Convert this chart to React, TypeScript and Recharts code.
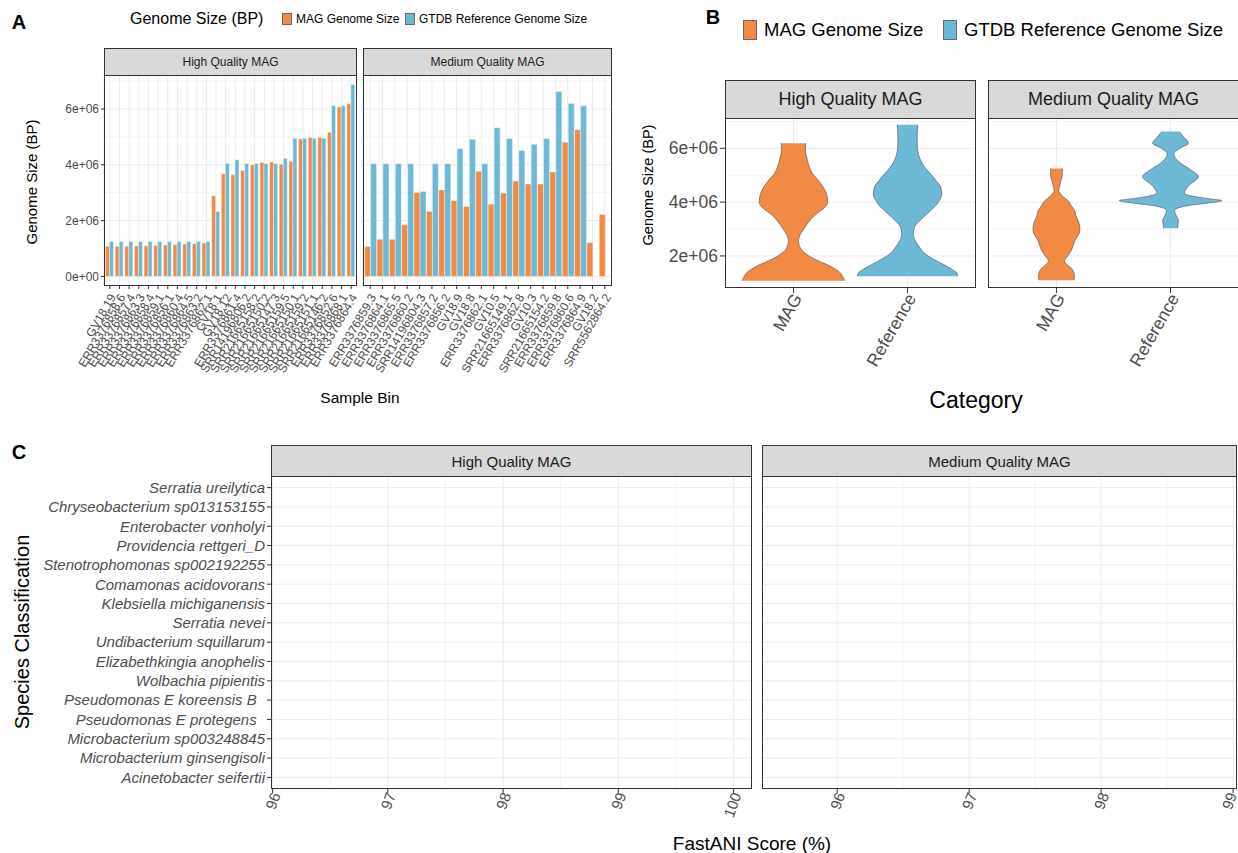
import React from 'react';
import { BarChart, Bar, ComposedChart, Area, Line, XAxis, YAxis, CartesianGrid } from 'recharts';

const FONT = '"Liberation Sans", Arial, Helvetica, sans-serif';
const ORANGE = '#F08A45';
const BLUE = '#6DB9D5';
const GRID = '#EBEBEB';
const MINOR = '#F3F3F3';
const TICK_TEXT = '#4D4D4D';
const FRAME = '#333333';

// ---- Panel A: genome size of each bin ----
const highBins = [
  'GV18.19', 'ERR3376858.6', 'ERR3376857.4', 'ERR3376863.3', 'ERR3376858.4', 'ERR3376859.1',
  'ERR3376856.1', 'ERR3376860.4', 'ERR3376864.5', 'ERR3376863.2', 'ERR3376862.1', 'GV18.1',
  'GV18.12', 'ERR3376861.4', 'SRR14196806.2', 'SRR21665158.2', 'SRR21665150.2', 'SRR21665147.3',
  'SRR21665159.5', 'SRR21665150.1', 'SRR21665159.2', 'SRR21665151.1', 'SRR21665146.2',
  'ERR3376852.6', 'ERR3376868.1', 'ERR3376864.4',
];
const highMag = [
  1.08e6, 1.08e6, 1.08e6, 1.09e6, 1.1e6, 1.12e6, 1.13e6, 1.14e6, 1.16e6, 1.17e6, 1.2e6, 2.89e6,
  3.68e6, 3.64e6, 3.8e6, 4.0e6, 4.08e6, 4.1e6, 4.02e6, 4.13e6, 4.93e6, 4.98e6, 4.99e6, 5.17e6,
  6.07e6, 6.19e6,
];
const highRef = [
  1.25e6, 1.25e6, 1.25e6, 1.25e6, 1.25e6, 1.25e6, 1.25e6, 1.25e6, 1.25e6, 1.25e6, 1.25e6, 2.33e6,
  4.06e6, 4.18e6, 4.05e6, 4.05e6, 4.05e6, 4.05e6, 4.23e6, 4.95e6, 4.95e6, 4.95e6, 4.95e6, 6.12e6,
  6.12e6, 6.88e6,
];
const mediumBins = [
  'ERR3376859.3', 'ERR3376864.1', 'ERR3376865.5', 'ERR3376860.2', 'SRR14196804.3', 'ERR3376857.2',
  'ERR3376856.2', 'GV18.9', 'GV18.8', 'ERR3376862.1', 'GV10.5', 'SRR21665149.1', 'ERR3376862.8',
  'GV10.3', 'SRR21665154.2', 'ERR3376859.8', 'ERR3376860.6', 'ERR3376864.9', 'GV18.2', 'SRR5562864.2',
];
const mediumMag = [
  1.07e6, 1.33e6, 1.33e6, 1.85e6, 3.01e6, 2.33e6, 3.1e6, 2.72e6, 2.51e6, 3.77e6, 2.59e6, 2.99e6,
  3.42e6, 3.31e6, 3.31e6, 3.74e6, 4.81e6, 5.26e6, 1.21e6, 2.22e6,
];
const mediumRef = [
  4.04e6, 4.04e6, 4.04e6, 4.04e6, 3.04e6, 4.04e6, 4.04e6, 4.58e6, 4.92e6, 4.04e6, 5.33e6, 4.94e6,
  4.51e6, 4.74e6, 4.94e6, 6.63e6, 6.2e6, 6.12e6, null, null,
];
const barTicks = [0, 2e6, 4e6, 6e6];

// ---- Panel B: violin half-widths (category units) read at each genome size level ----
const highLevels = [
  1.08e6, 1.25e6, 1.38e6, 1.5e6, 1.69e6, 1.85e6, 2.06e6, 2.3e6, 2.56e6, 2.8e6, 3.06e6, 3.3e6,
  3.56e6, 3.75e6, 4.0e6, 4.3e6, 4.56e6, 4.8e6, 5.06e6, 5.3e6, 5.6e6, 5.9e6, 6.19e6, 6.5e6, 6.875e6,
];
const highMagWidth = [
  0.45, 0.43, 0.41, 0.37, 0.29, 0.2, 0.115, 0.06, 0.045, 0.06, 0.1, 0.14,
  0.2, 0.26, 0.3, 0.29, 0.26, 0.22, 0.167, 0.14, 0.12, 0.105, 0.108, null, null,
];
const highRefWidth = [
  null, 0.44, 0.43, 0.39, 0.31, 0.24, 0.16, 0.11, 0.07, 0.05, 0.06, 0.105,
  0.17, 0.22, 0.27, 0.3, 0.29, 0.25, 0.2, 0.15, 0.11, 0.09, 0.085, 0.085, 0.09,
];
const mediumLevels = [
  1.1e6, 1.25e6, 1.5e6, 1.65e6, 1.81e6, 2.06e6, 2.3e6, 2.56e6, 2.94e6, 3.03e6, 3.19e6, 3.31e6,
  3.5e6, 3.69e6, 3.87e6, 3.95e6, 4.06e6, 4.13e6, 4.2e6, 4.34e6, 4.44e6, 4.62e6, 4.81e6, 4.94e6,
  5.25e6, 5.44e6, 5.79e6, 6.0e6, 6.19e6, 6.4e6, 6.625e6,
];
const mediumMagWidth = [
  0.155, 0.157, 0.14, 0.1, 0.07, 0.11, 0.14, 0.16, 0.205, 0.205, 0.2, 0.19,
  0.17, 0.16, 0.13, 0.12, 0.1, 0.08, 0.06, 0.03, 0.02, 0.03, 0.04, 0.05,
  0.052, null, null, null, null, null, null,
];
const mediumRefWidth = [
  null, null, null, null, null, null, null, null, null, 0.063, 0.065, 0.07,
  0.05, 0.035, 0.15, 0.3, 0.45, 0.33, 0.22, 0.12, 0.13, 0.16, 0.22, 0.245,
  0.16, 0.09, 0.03, 0.08, 0.157, 0.12, 0.075,
];
const violinCategories = ['MAG', 'Reference'];

// ---- Panel C: FastANI by species ----
const species = [
  'Serratia ureilytica', 'Chryseobacterium sp013153155', 'Enterobacter vonholyi',
  'Providencia rettgeri_D', 'Stenotrophomonas sp002192255', 'Comamonas acidovorans',
  'Klebsiella michiganensis', 'Serratia nevei', 'Undibacterium squillarum',
  'Elizabethkingia anophelis', 'Wolbachia pipientis', 'Pseudomonas E koreensis B\u00A0\u00A0',
  'Pseudomonas E protegens\u00A0\u00A0', 'Microbacterium sp003248845', 'Microbacterium ginsengisoli',
  'Acinetobacter seifertii',
];
const aniTicksHigh = [96, 97, 98, 99, 100];
const aniMinorHigh = [96.5, 97.5, 98.5, 99.5];
const aniTicksMedium = [96, 97, 98, 99];
const aniMinorMedium = [95.5, 96.5, 97.5, 98.5];

// note: no row key may be called "ref" (bar entries get spread onto the shapes)
const highRows = highBins.map((bin, i) => ({ bin, magSize: highMag[i], refSize: highRef[i] }));
const mediumRows = mediumBins.map((bin, i) => ({ bin, magSize: mediumMag[i], refSize: mediumRef[i] }));
const highViolin = highLevels.map((y, i) => ({ y, magHalf: highMagWidth[i], refHalf: highRefWidth[i] }));
const mediumViolin = mediumLevels.map((y, i) => ({ y, magHalf: mediumMagWidth[i], refHalf: mediumRefWidth[i] }));
const speciesRows = species.map((name) => ({ name }));

const sci = (v: number) => (v === 0 ? '0e+00' : `${v / 1e6}e+06`);

// rotated tick label, text end anchored at the tick
const slant = (angle: number, fontSize: number, dx: number, dy: number, format?: (v: any) => string) =>
  (props: any) => {
    const tx = props.x + dx;
    const ty = props.y + dy;
    const v = props.payload ? props.payload.value : '';
    return (
      <text x={tx} y={ty} transform={`rotate(${angle} ${tx} ${ty})`} textAnchor="end"
        dominantBaseline="central" fontSize={fontSize} fill={TICK_TEXT} fontFamily={FONT}>
        {format ? format(v) : v}
      </text>
    );
  };

const Strip = ({ left, top, width, height, text, fontSize }: any) => (
  <div style={{
    position: 'absolute', left, top, width, height, boxSizing: 'border-box', background: '#D9D9D9',
    border: `1px solid ${FRAME}`, display: 'flex', alignItems: 'center', justifyContent: 'center',
    fontSize, color: '#1A1A1A', whiteSpace: 'nowrap',
  }}>{text}</div>
);

const Frame = ({ left, top, width, height }: any) => (
  <div style={{
    position: 'absolute', left, top, width, height, boxSizing: 'border-box',
    border: `1px solid ${FRAME}`, pointerEvents: 'none',
  }} />
);

const Txt = ({ x, y, size, children, rotate = 0, bold = false, color = '#000', anchor = 'center' }: any) => (
  <div style={{
    position: 'absolute', left: x, top: y, fontSize: size, fontWeight: bold ? 700 : 400, color,
    whiteSpace: 'nowrap', lineHeight: 1,
    transform: `translate(${anchor === 'left' ? '0' : '-50%'}, -50%) rotate(${rotate}deg)`,
    transformOrigin: anchor === 'left' ? 'left center' : 'center',
  }}>{children}</div>
);

const Swatch = ({ x, y, w, h, color }: any) => (
  <div style={{
    position: 'absolute', left: x, top: y, width: w, height: h, background: color,
    boxSizing: 'border-box', border: '1px solid #6b6b6b',
  }} />
);

const tickLine = { stroke: FRAME };
const barTick = slant(-60, 12, 3, 4);
const violinTick = slant(-60, 17.5, 4, 0, (v: number) => violinCategories[v - 1]);
const aniTick = slant(-70, 15, 3, -2);

// leftPad leaves room in the svg for slanted labels that reach left of the panel
const GenomeBars = ({ rows, width, showY, leftPad = 0 }: any) => (
  <BarChart width={width} height={330} data={rows} margin={{ top: 0, right: 0, bottom: 0, left: leftPad }}
    barCategoryGap="5%" barGap={0}>
    <CartesianGrid horizontalValues={[1e6, 3e6, 5e6, 7e6]} vertical={false} stroke={MINOR} />
    <CartesianGrid horizontalValues={barTicks} stroke={GRID} />
    <XAxis dataKey="bin" interval={0} height={119} axisLine={false} tickSize={3} tickLine={tickLine}
      padding={{ left: 1, right: 1 }} tick={barTick} />
    <YAxis hide={!showY} width={104} domain={[-344000, 7220000]} allowDataOverflow ticks={barTicks}
      tickFormatter={sci} axisLine={false} tickSize={3} tickLine={tickLine}
      tick={{ fontSize: 12, fill: TICK_TEXT, fontFamily: FONT }} />
    <Bar dataKey="magSize" fill={ORANGE} stroke="#ffffff" strokeWidth={0.4} isAnimationActive={false} />
    <Bar dataKey="refSize" fill={BLUE} stroke="#ffffff" strokeWidth={0.4} isAnimationActive={false} />
  </BarChart>
);

const magRange = (r: any) => (r.magHalf == null ? [null, null] : [1 - r.magHalf, 1 + r.magHalf]);
const refRange = (r: any) => (r.refHalf == null ? [null, null] : [2 - r.refHalf, 2 + r.refHalf]);

const Violins = ({ rows, width, showY }: any) => (
  <ComposedChart layout="vertical" width={width} height={280} data={rows}
    margin={{ top: 0, right: 0, bottom: 0, left: 0 }}>
    <CartesianGrid horizontalValues={[1e6, 3e6, 5e6, 7e6]} vertical={false} stroke={MINOR} />
    <CartesianGrid horizontalValues={[2e6, 4e6, 6e6]} verticalValues={[1, 2]} stroke={GRID} />
    <XAxis type="number" domain={[0.4, 2.6]} allowDataOverflow ticks={[1, 2]} height={110}
      axisLine={false} tickSize={5} tickLine={tickLine} tick={violinTick} />
    <YAxis type="number" dataKey="y" reversed hide={!showY} width={105} domain={[810000, 7125000]}
      allowDataOverflow ticks={[2e6, 4e6, 6e6]} tickFormatter={sci} axisLine={false} tickSize={5}
      tickLine={tickLine} tick={{ fontSize: 17.5, fill: TICK_TEXT, fontFamily: FONT }} />
    <Area type="monotone" dataKey={magRange} fill={ORANGE} fillOpacity={1} stroke="#4D4D4D"
      strokeWidth={0.6} isAnimationActive={false} />
    <Area type="monotone" dataKey={refRange} fill={BLUE} fillOpacity={1} stroke="#4D4D4D"
      strokeWidth={0.6} isAnimationActive={false} />
  </ComposedChart>
);

const AniPanel = ({ width, showY, domain, ticks, minor }: any) => (
  <ComposedChart layout="vertical" width={width} height={375} data={speciesRows}
    margin={{ top: 0, right: 0, bottom: 0, left: 0 }}>
    <CartesianGrid verticalValues={minor} horizontal={false} stroke={MINOR} />
    <CartesianGrid verticalValues={ticks} stroke={GRID} />
    <XAxis type="number" domain={domain} allowDataOverflow ticks={ticks} height={62}
      axisLine={false} tickSize={4} tickLine={tickLine} tick={aniTick} />
    <YAxis type="category" dataKey="name" hide={!showY} width={271} axisLine={false}
      padding={{ top: 11.6, bottom: 11.6 }} tickSize={4} tickLine={tickLine} interval={0}
      tick={{ fontSize: 15, fill: TICK_TEXT, fontFamily: FONT, fontStyle: 'italic' }} />
    <Line dataKey="fastani" stroke="none" dot={false} isAnimationActive={false} />
  </ComposedChart>
);

export default function App() {
  return (
    <div style={{ position: 'absolute', left: 0, top: 0, width: 1238, height: 853, background: '#fff', fontFamily: FONT, overflow: 'hidden' }}>
      {/* Panel A */}
      <Txt x={19} y={22} size={20} bold>A</Txt>
      <Txt x={130} y={19} size={16} anchor="left">Genome Size (BP)</Txt>
      <Swatch x={282} y={13} w={10} h={12} color={ORANGE} />
      <Txt x={296} y={19} size={12} anchor="left">MAG Genome Size</Txt>
      <Swatch x={405} y={13} w={10} h={12} color={BLUE} />
      <Txt x={419} y={19} size={12} anchor="left">GTDB Reference Genome Size</Txt>
      <Strip left={104} top={48} width={253} height={28} text="High Quality MAG" fontSize={12} />
      <Strip left={363} top={48} width={249} height={28} text="Medium Quality MAG" fontSize={12} />
      <div style={{ position: 'absolute', left: 0, top: 75 }}>
        <GenomeBars rows={highRows} width={357} showY />
      </div>
      <div style={{ position: 'absolute', left: 283, top: 75 }}>
        <GenomeBars rows={mediumRows} width={329} showY={false} leftPad={80} />
      </div>
      <Frame left={104} top={75} width={253} height={211} />
      <Frame left={363} top={75} width={249} height={211} />
      <Txt x={31} y={182} size={15} rotate={-90}>Genome Size (BP)</Txt>
      <Txt x={360} y={398} size={15.5}>Sample Bin</Txt>

      {/* Panel B */}
      <Txt x={713} y={17} size={20} bold>B</Txt>
      <Swatch x={743} y={20} w={14} h={20} color={ORANGE} />
      <Txt x={764} y={30} size={18.5} anchor="left">MAG Genome Size</Txt>
      <Swatch x={943} y={20} w={14} h={20} color={BLUE} />
      <Txt x={964} y={30} size={18.5} anchor="left">GTDB Reference Genome Size</Txt>
      <Strip left={725} top={80} width={251} height={39} text="High Quality MAG" fontSize={18} />
      <Strip left={988} top={80} width={251} height={39} text="Medium Quality MAG" fontSize={18} />
      <div style={{ position: 'absolute', left: 620, top: 118 }}>
        <Violins rows={highViolin} width={356} showY />
      </div>
      <div style={{ position: 'absolute', left: 988, top: 118 }}>
        <Violins rows={mediumViolin} width={251} showY={false} />
      </div>
      <Frame left={725} top={118} width={251} height={170} />
      <Frame left={988} top={118} width={251} height={170} />
      <Txt x={648} y={185} size={14.5} rotate={-90}>Genome Size (BP)</Txt>
      <Txt x={976} y={400} size={23}>Category</Txt>

      {/* Panel C */}
      <Txt x={19} y={452} size={20} bold>C</Txt>
      <Strip left={271} top={445} width={481} height={32} text="High Quality MAG" fontSize={15} />
      <Strip left={762} top={445} width={475} height={32} text="Medium Quality MAG" fontSize={15} />
      <div style={{ position: 'absolute', left: 0, top: 476 }}>
        <AniPanel width={752} showY domain={[95.986, 100.16]} ticks={aniTicksHigh} minor={aniMinorHigh} />
      </div>
      <div style={{ position: 'absolute', left: 762, top: 476 }}>
        <AniPanel width={475} showY={false} domain={[95.43, 99.03]} ticks={aniTicksMedium} minor={aniMinorMedium} />
      </div>
      <Frame left={271} top={476} width={481} height={313} />
      <Frame left={762} top={476} width={475} height={313} />
      <Txt x={22} y={632} size={20} rotate={-90}>Species Classification</Txt>
      <Txt x={752} y={843} size={19}>FastANI Score (%)</Txt>
    </div>
  );
}
